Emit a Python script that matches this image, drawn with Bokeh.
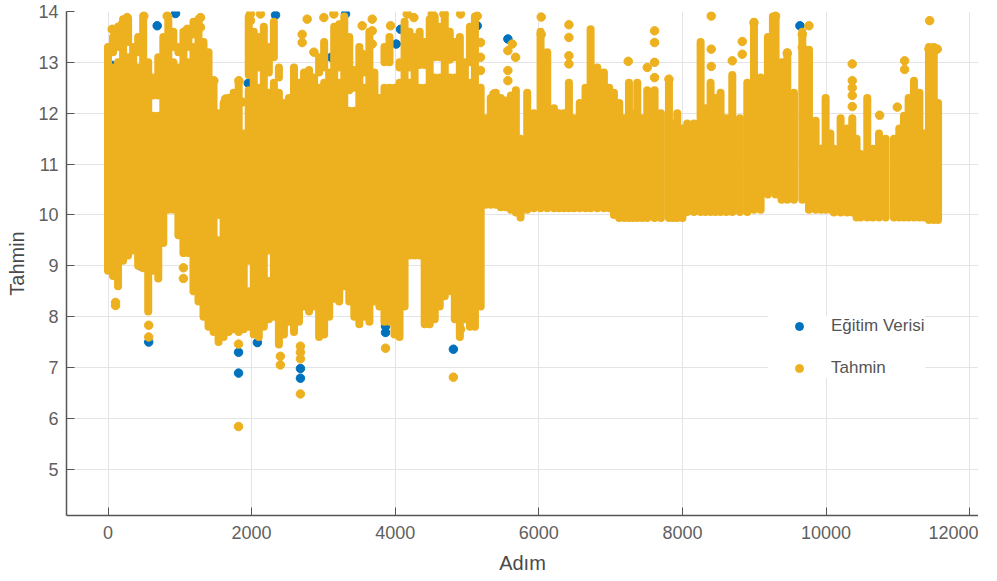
from bokeh.plotting import figure
from bokeh.embed import file_html
from bokeh.resources import INLINE
from bokeh.models import Legend, LegendItem, Range1d, FixedTicker

# Dense body of the prediction cloud
mass_x = [0,70,140,210,280,350,420,490,560,630,700,770,840,910,980,1050,1120,1190,1260,1330,1400,1470,1540,1610,1680,1750,1820,1890,1960,2030,2100,2170,2240,2310,2380,2450,2520,2590,2660,2730,2800,2870,2940,3010,3080,3150,3220,3290,3360,3430,3500,3570,3640,3710,3780,3850,3920,3990,4060,4130,4200,4270,4340,4410,4480,4550,4620,4690,4760,4830,4900,4970,5040,5110,5190,
          5260,5330,5400,5470,5540,5610,5680,5745,5838,5931,6024,6117,6210,6280,6349,6419,6490,6570,6650,6721,6814,6906,6980,7046,7120,7190,7255,7310,7371,7440,7510,7612,7700,7812,7870,7928,8000,8067,8160,8253,8320,8392,8460,8531,8610,8694,8800,8903,8996,9089,9190,9260,9297,9380,9460,9553,9669,9762,9855,9930,9994,10060,10110,10203,10290,10365,10425,10481,10574,10650,10737,10830,10946,11020,11085,11150,11224,11300,11364,11433,11500,11560]
mass_low = [8.9,8.8,8.6,9.1,9.2,9.3,9.0,8.95,8.1,8.9,8.75,9.45,10.1,10.1,9.6,9.25,9.25,8.5,8.3,8.0,7.8,7.7,10.0,7.6,7.7,7.75,7.7,7.75,9.1,7.65,7.6,7.8,9.3,8.0,7.45,7.65,7.9,7.7,7.9,8.2,8.1,8.2,7.6,7.65,8.0,8.35,8.3,8.6,8.3,8.0,7.85,8.0,7.9,8.3,8.2,7.9,7.9,7.65,7.6,8.2,9.2,9.2,9.2,7.85,7.85,7.95,8.2,8.4,8.5,7.95,7.6,7.95,7.8,7.8,8.2,
            10.2,10.2,10.2,10.15,10.15,10.1,10.05,9.95,10.1,10.13,10.13,10.13,10.13,10.13,10.13,10.13,10.13,10.13,10.13,10.13,10.13,10.13,10.13,10.0,9.94,9.94,9.94,9.94,9.94,9.94,9.94,9.94,9.94,9.94,9.94,9.94,9.94,10.06,10.06,10.06,10.06,10.06,10.06,10.06,10.06,10.06,10.06,10.06,10.1,10.1,10.4,10.52,10.4,10.3,10.3,10.3,10.3,10.1,10.1,10.1,10.1,10.1,10.05,10.05,10.05,10.05,9.95,9.95,9.95,9.95,9.95,9.95,9.95,9.95,9.95,9.95,9.95,9.95,9.95,9.9,9.9,9.9]
mass_high = [13.3,12.9,13.0,13.85,13.1,13.3,12.9,13.85,13.0,11.95,11.95,13.5,13.9,13.0,12.9,13.6,13.0,13.3,13.85,13.4,13.2,12.6,12.0,12.2,12.3,12.4,12.6,11.6,12.45,13.6,12.5,13.7,12.4,12.6,12.4,12.2,12.3,12.9,12.6,12.8,12.85,12.7,12.5,12.6,12.8,13.7,12.6,13.9,12.05,12.05,13.3,12.5,13.6,12.8,12.3,12.5,12.5,12.5,12.6,13.8,12.6,13.5,12.5,12.5,13.85,12.7,12.7,13.95,12.7,12.7,13.5,13.0,12.6,13.9,12.5,
             11.9,12.3,12.4,12.3,12.25,12.35,12.45,11.5,12.4,12.0,13.6,13.2,12.1,12.0,12.0,12.6,11.9,12.2,12.5,13.65,12.9,12.8,12.5,12.4,12.2,11.9,12.6,12.0,12.6,11.9,12.45,12.45,12.0,12.65,11.8,12.0,11.7,11.8,11.8,13.4,12.1,12.6,12.3,12.4,11.9,12.75,11.9,12.6,13.8,12.7,13.5,13.9,13.9,13.0,13.2,12.4,13.6,13.25,11.85,11.3,12.3,11.6,11.3,11.9,11.7,11.9,11.5,11.2,12.3,11.3,11.6,11.5,11.5,11.7,11.95,12.3,12.64,12.4,11.6,13.3,13.3,12.2]

# Detached runs of overlapping points in the same columns, above or below the white gaps
run_x = [70,140,280,420,630,700,910,980,1120,1190,1960,2100,2240,2310,2380,2940,3010,3220,3360,3430,3570,3850,3920,4060,4200,4340,4410,4550,4620,4760,4830,5040,1540,1960,2240]
run_low = [13.2,13.3,13.4,13.2,12.35,12.35,13.3,13.2,13.3,13.55,12.75,12.9,12.8,13.1,12.7,12.8,12.9,12.9,12.45,12.5,12.8,13.0,13.0,12.9,12.9,12.95,12.95,13.1,13.1,13.05,13.1,13.0,7.5,7.8,7.95]
run_high = [13.5,13.7,13.85,13.5,12.7,13.1,13.6,13.3,13.5,13.8,13.9,13.5,13.3,13.8,12.9,13.1,13.4,13.75,13.5,12.85,13.1,13.3,13.5,13.0,13.6,13.6,13.4,13.9,13.7,13.6,13.4,13.7,9.5,8.5,8.7]

# Separate orange points outside the dense body
tahmin_x = [105,105,567,567,1050,1050,1818,1818,2400,2400,2680,2680,2680,2680,3865,4810,4910,
            58,267,197,499,824,1103,1288,1288,1474,1637,1822,1869,1985,2124,1985,1985,1985,1985,2774,2704,2704,2867,3006,3145,3540,3540,3680,3680,3680,3935,4167,4260,4515,4678,4910,5142,5188,5188,5188,5374,
            5630,5676,5569,5569,5569,6033,6033,6419,6419,6419,6419,7245,7510,7612,7612,7612,7612,7812,8401,8401,8401,8694,8833,8833,8996,9297,9460,9762,9669,9669,10365,10365,10365,10365,10365,10746,11094,11094,11443,11433,11549,10992]
tahmin_y = [8.22,8.28,7.83,7.6,8.96,8.75,7.46,5.84,7.22,7.05,7.42,7.3,7.17,6.48,7.38,6.81,7.75,
            13.65,13.88,13.75,13.91,13.91,13.65,13.88,13.69,12.64,12.28,12.64,12.22,13.95,13.95,13.82,13.56,13.36,13.07,13.85,13.55,13.39,13.2,13.88,13.95,13.72,13.16,13.85,13.62,13.36,13.72,13.95,13.88,13.95,13.95,13.95,13.91,13.39,13.1,12.84,12.38,
            13.36,13.1,13.23,12.84,12.64,13.89,13.55,13.74,13.49,13.13,12.97,13.02,12.9,13.0,13.62,13.39,12.7,12.67,13.91,13.26,12.92,13.03,13.41,13.16,13.78,13.91,13.18,13.72,13.55,13.29,12.97,12.64,12.5,12.35,12.13,11.96,13.03,12.86,13.82,13.26,13.26,12.12]

# Blue training points that show from behind the orange ones
egitim_x = [940,2333,3308,685,1953,1743,3108,4014,4074,4515,4492,4005,5142,5569,2203,2110,58,9636,9228,1818,1818,2080,2680,2680,3865,3865,4810,567,450,4933,5165,3238]
egitim_y = [13.96,13.93,13.95,13.72,12.59,12.32,13.1,13.36,13.65,13.7,13.2,12.39,13.72,13.46,13.05,13.46,12.94,13.72,13.36,7.3,6.89,7.49,6.98,6.79,7.81,7.69,7.36,7.5,9.0,7.99,9.55,8.93]

x_ticks = [0,2000,4000,6000,8000,10000,12000]
y_ticks = [5,6,7,8,9,10,11,12,13,14]
BLUE, YELLOW = "#0072BD", "#EDB120"
FONT = "Liberation Sans"

p = figure(width=978, height=576, output_backend="svg", toolbar_location=None,
           x_range=Range1d(-578, 12123), y_range=Range1d(4.09, 14.0),
           min_border_left=66, min_border_right=0, min_border_top=11, min_border_bottom=59,
           x_axis_label="Adım", y_axis_label="Tahmin")
p.outline_line_color = None
p.background_fill_color = "white"

for ax, ticks in ((p.xaxis[0], x_ticks), (p.yaxis[0], y_ticks)):
    ax.ticker = FixedTicker(ticks=ticks)
    ax.major_tick_in = 8
    ax.major_tick_out = 0
    ax.minor_tick_line_color = None
    ax.axis_line_color = "#555555"
    ax.axis_line_width = 1.5
    ax.major_tick_line_color = "#555555"
    ax.major_label_text_font = FONT
    ax.major_label_text_font_size = "18px"
    ax.major_label_text_color = "#5f5f5f"
    ax.axis_label_text_font = FONT
    ax.axis_label_text_font_size = "20px"
    ax.axis_label_text_font_style = "normal"
    ax.axis_label_text_color = "#4a4a4a"
p.xaxis[0].major_label_standoff = 10
p.yaxis[0].major_label_standoff = 8
p.xaxis[0].axis_label_standoff = 10
p.yaxis[0].axis_label_standoff = 7

p.grid.grid_line_color = "#e4e4e6"
p.grid.grid_line_width = 1

blue = p.scatter(egitim_x, egitim_y, size=8.5, color=BLUE)
p.segment(mass_x, mass_low, mass_x, mass_high, line_color=YELLOW, line_width=8, line_cap="round")
p.segment(run_x, run_low, run_x, run_high, line_color=YELLOW, line_width=8, line_cap="round")
yellow = p.scatter(tahmin_x, tahmin_y, size=8.5, color=YELLOW)

legend = Legend(items=[LegendItem(label="Eğitim Verisi", renderers=[blue]),
                       LegendItem(label="Tahmin", renderers=[yellow])],
                location=(702, 137), orientation="vertical",
                border_line_color=None, background_fill_color="white", background_fill_alpha=1,
                padding=11, margin=0, spacing=22, label_height=20, glyph_height=20, glyph_width=62,
                label_standoff=1, label_text_font=FONT, label_text_font_size="17px",
                label_text_color="#555555")
p.add_layout(legend)

open("out.html", "w").write(file_html(p, INLINE))
